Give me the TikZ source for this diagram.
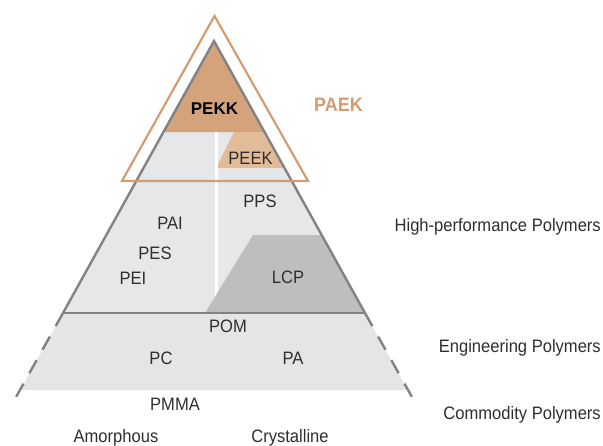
\documentclass[tikz,border=0pt]{standalone}
\usepackage{fontspec}
\setmainfont{Liberation Sans}[FakeStretch=0.92]
\newfontfamily\widefont{Liberation Sans}
\definecolor{fillgray}{HTML}{E6E7E8}
\definecolor{bandgray}{HTML}{E4E5E6}
\definecolor{edgegray}{HTML}{808285}
\definecolor{pekkfill}{HTML}{D4A37B}
\definecolor{peekfill}{HTML}{E2BC98}
\definecolor{lcpfill}{HTML}{BDBEC0}
\definecolor{paekline}{HTML}{D49C70}
\definecolor{txt}{HTML}{2E2E2E}
\tikzset{
  lbl/.style={anchor=base, inner sep=0pt, text=txt, font=\fontsize{18}{20}\selectfont},
  rlbl/.style={lbl, anchor=base east},
  edge/.style={draw=edgegray, line width=2.4pt},
  dashedge/.style={draw=edgegray, line width=2.4pt, dash pattern=on 15pt off 12pt}
}
\begin{document}
\begin{tikzpicture}[x=1pt,y=-1pt]
\useasboundingbox (0,0) rectangle (603,445);
% main triangle fill
\coordinate (apex) at (214,41);
\coordinate (bl) at (63,313);
\coordinate (br) at (365,313);
\fill[fillgray] (apex) -- (bl) -- (br) -- cycle;
% PEKK
\fill[pekkfill] (apex) -- (163.5,132) -- (264.5,132) -- cycle;
% PEEK
\fill[peekfill] (234,132) -- (264.5,132) -- (284.5,168) -- (216,168) -- cycle;
% white divider
\draw[white, line width=3pt] (216,132) -- (216,313);
% LCP
\fill[lcpfill] (253,235) -- (321.7,235) -- (br) -- (205,313) -- cycle;
% engineering band
\fill[bandgray] (bl) -- (br) -- (407.7,390) -- (20.3,390) -- cycle;
% edges
\coordinate (dl) at (11,406);
\coordinate (dr) at (417,406);
\draw[edge, line join=miter] (bl) -- (apex) -- (br);
\draw[edge] (bl) -- (br);
\draw[dashedge] (bl) -- (dl);
\draw[dashedge] (br) -- (dr);
% PAEK outline
\draw[paekline, line width=2.2pt, line join=miter] (214.5,16) -- (308,181) -- (122,181) -- cycle;
% labels
\node[lbl, text=black, font=\widefont\bfseries\fontsize{17}{19}\selectfont] (pekk) at (214.5,114) {PEKK};
\node[lbl] (peek) at (250.5,164) {PEEK};
\node[lbl] (pps) at (260,207) {PPS};
\node[lbl] (pai) at (170,229) {PAI};
\node[lbl] (pes) at (155,259) {PES};
\node[lbl] (pei) at (133,284) {PEI};
\node[lbl] (lcp) at (288,283) {LCP};
\node[lbl] (pom) at (228,332) {POM};
\node[lbl] (pc) at (161,364) {PC};
\node[lbl] (pa) at (293,364) {PA};
\node[lbl] (pmma) at (175,410) {PMMA};
\node[lbl] (amorph) at (116,442) {Amorphous};
\node[lbl] (cryst) at (290,442) {Crystalline};
\node[lbl, text=paekline, font=\bfseries\fontsize{19.5}{21}\selectfont] (paek) at (338.5,111.7) {PAEK};
\node[rlbl] (hp) at (601,231) {High-performance Polymers};
\node[rlbl] (ep) at (601,352) {Engineering Polymers};
\node[rlbl] (cp) at (601,419) {Commodity Polymers};
\end{tikzpicture}
\end{document}
